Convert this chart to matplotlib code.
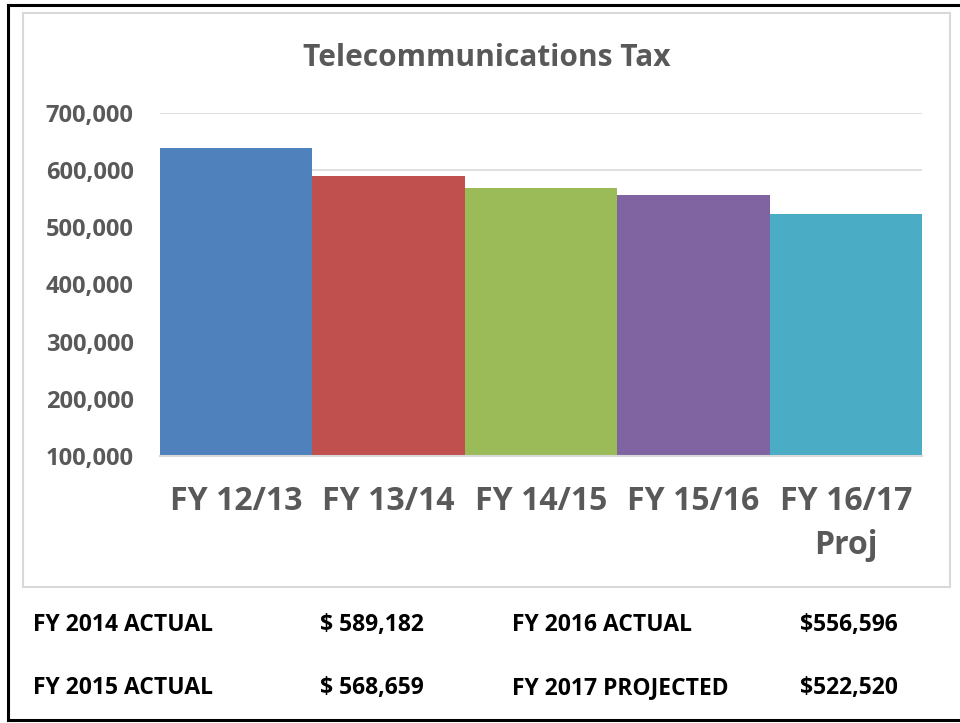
import matplotlib.pyplot as plt
from matplotlib.lines import Line2D
from matplotlib.patches import Rectangle
from matplotlib.ticker import FuncFormatter

# --- data ---
categories = ["FY 12/13", "FY 13/14", "FY 14/15", "FY 15/16", "FY 16/17\nProj"]
values = [638000, 589182, 568659, 556596, 522520]
colors = ["#4F81BD", "#C0504D", "#9BBB59", "#8064A2", "#4BACC6"]

table_labels = [["FY 2014 ACTUAL", "FY 2016 ACTUAL"],
                ["FY 2015 ACTUAL", "FY 2017 PROJECTED"]]
table_values = [["$ 589,182", "$556,596"],
                ["$ 568,659", "$522,520"]]

W, H = 960, 723
FONT = "Open Sans"
GRAY = "#595959"

fig = plt.figure(figsize=(W / 100, H / 100), dpi=100)


def fx(px):
    return px / W


def fy(py):
    return 1 - py / H


# outer black frame (right side falls outside the picture)
for xs, ys in [([8, W], [5, 5]), ([8, 8], [5, 720]), ([8, W], [720, 720])]:
    fig.add_artist(Line2D([fx(x) for x in xs], [fy(y) for y in ys],
                          color="black", lw=2.2, transform=fig.transFigure))

# light gray chart-area border
fig.add_artist(Rectangle((fx(23), fy(587)), fx(950) - fx(23), fy(13) - fy(587),
                         fill=False, edgecolor="#D9D9D9", lw=1.5,
                         transform=fig.transFigure))

# --- chart ---
ax = fig.add_axes([fx(160), fy(456), fx(922) - fx(160), fy(113) - fy(456)])
x = range(len(categories))
ax.bar(x, values, width=1.0, color=colors, zorder=2)
ax.set_xlim(-0.5, len(categories) - 0.5)
ax.set_ylim(100000, 700000)
ax.set_yticks(range(100000, 700001, 100000))
ax.yaxis.set_major_formatter(FuncFormatter(lambda v, p: f"{int(v):,}"))
ax.grid(axis="y", color="#D9D9D9", lw=1.2, zorder=0)

for s in ["top", "right", "left"]:
    ax.spines[s].set_visible(False)
ax.spines["bottom"].set_color("#D9D9D9")
ax.spines["bottom"].set_linewidth(1.5)
ax.spines["bottom"].set_zorder(3)

ax.tick_params(axis="both", length=0)
ax.tick_params(axis="y", pad=19, labelsize=17, labelcolor=GRAY)
ax.tick_params(axis="x", pad=21, labelsize=23, labelcolor=GRAY)
ax.set_xticks(list(x))
ax.set_xticklabels(categories, linespacing=1.45)
for lab in ax.get_xticklabels() + ax.get_yticklabels():
    lab.set_fontfamily(FONT)
    lab.set_fontweight("bold")

fig.text(fx(487), fy(58), "Telecommunications Tax", ha="center", va="center",
         fontsize=21.5, fontweight="bold", color=GRAY, family=FONT)

# --- table under the chart ---
col_x = [33, 320, 512, 800]
row_y = [625, 688]
for r in range(2):
    for c in range(2):
        fig.text(fx(col_x[2 * c]), fy(row_y[r]), table_labels[r][c],
                 ha="left", va="center", fontsize=16.5, fontweight="bold",
                 color="black", family=FONT)
        fig.text(fx(col_x[2 * c + 1]), fy(row_y[r]), table_values[r][c],
                 ha="left", va="center", fontsize=16.5, fontweight="bold",
                 color="black", family=FONT)

fig.savefig("out.png", dpi=100)
